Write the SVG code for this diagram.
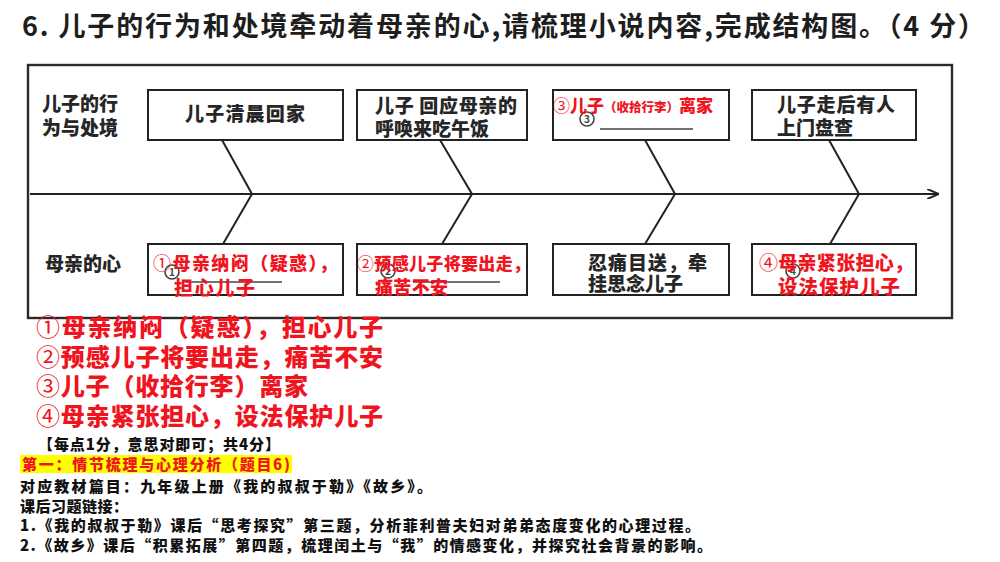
<svg xmlns="http://www.w3.org/2000/svg" width="1000" height="562" viewBox="0 0 1000 562">
<style>
.cjk{font-family:"Noto Sans CJK SC","Noto Sans",sans-serif}
.box{fill:#fff;stroke:#222;stroke-width:2}
.ln{stroke:#222;stroke-width:2;fill:none}
.bt{font-family:"Noto Sans CJK SC",sans-serif;font-size:19px;font-weight:900;fill:#262626}
.red{font-family:"Noto Sans CJK SC",sans-serif;font-weight:900;fill:#f0141e}
.thin{font-weight:400}
.grey{stroke:#444;stroke-width:1.6;fill:none}
.gt{font-family:"Noto Sans CJK SC",sans-serif;font-size:10px;font-weight:700;fill:#444}
.blk{font-family:"Noto Sans CJK SC",sans-serif;font-size:15px;font-weight:900;fill:#111}
</style>
<defs>
<marker id="arr" markerWidth="12" markerHeight="10" refX="11" refY="5" orient="auto" markerUnits="userSpaceOnUse">
<path d="M0,0 L12,5 L0,10" fill="none" stroke="#222" stroke-width="2"/>
</marker>
</defs>
<rect width="1000" height="562" fill="#fff"/>
<text class="cjk" x="22" y="36" font-size="27" font-weight="700" fill="#1e1e1e" textLength="963">6. 儿子的行为和处境牵动着母亲的心,请梳理小说内容,完成结构图。（4 分）</text>
<rect x="28" y="65" width="924" height="253" fill="#fff" stroke="#2a2a2a" stroke-width="2.4"/>
<g id="label-top"><text class="bt" x="42" y="111">儿子的行</text><text class="bt" x="42" y="135">为与处境</text></g>
<g id="label-bottom"><text class="bt" x="45" y="271">母亲的心</text></g>
<g id="connectors">
<line class="ln" x1="30" y1="194" x2="938" y2="194" marker-end="url(#arr)"/>
<polyline class="ln" points="222,140 252,194 223,244"/>
<polyline class="ln" points="440,140 472,194 442,244"/>
<polyline class="ln" points="645,140 675,194 645,244"/>
<polyline class="ln" points="829,140 859,194 830,244"/>
</g>
<g id="top1"><rect class="box" x="148" y="90" width="195" height="50"/><text class="bt" x="245" y="121" text-anchor="middle" textLength="120">儿子清晨回家</text></g>
<g id="top2"><rect class="box" x="357" y="90" width="170" height="50"/><text class="bt" x="375" y="113" textLength="142">儿子 回应母亲的</text><text class="bt" x="375" y="136">呼唤来吃午饭</text></g>
<g id="top3"><rect class="box" x="553" y="90" width="176" height="50"/>
<circle class="grey" cx="587" cy="119" r="7"/><text class="gt" x="587" y="123" text-anchor="middle">3</text>
<line class="grey" x1="600" y1="129" x2="693" y2="129"/>
<text class="red" x="553" y="112" font-size="17"><tspan class="thin">③</tspan>儿子<tspan font-size="12.5">（收拾行李）</tspan>离家</text></g>
<g id="top4"><rect class="box" x="752" y="90" width="164" height="50"/><text class="bt" x="777" y="112" textLength="118">儿子走后有人</text><text class="bt" x="777" y="135">上门盘查</text></g>
<g id="bot1"><rect class="box" x="148" y="244" width="195" height="51"/>
<circle class="grey" cx="172" cy="272" r="7"/><text class="gt" x="172" y="276" text-anchor="middle">1</text>
<line class="grey" x1="185" y1="282" x2="282" y2="282"/>
<text class="red" x="153" y="270" font-size="18" textLength="184"><tspan class="thin">①</tspan>母亲纳闷（疑惑），</text><text class="red" x="174" y="295" font-size="19" textLength="81">担心儿子</text></g>
<g id="bot2"><rect class="box" x="357" y="244" width="170" height="51"/>
<circle class="grey" cx="388" cy="271" r="7"/><text class="gt" x="388" y="275" text-anchor="middle">2</text>
<line class="grey" x1="413" y1="282" x2="500" y2="282"/>
<text class="red" x="357" y="270" font-size="17" textLength="173"><tspan class="thin">②</tspan>预感儿子将要出走，</text><text class="red" x="375" y="294" font-size="18" textLength="73">痛苦不安</text></g>
<g id="bot3"><rect class="box" x="553" y="244" width="176" height="51"/><text class="bt" x="588" y="270" textLength="119">忍痛目送，牵</text><text class="bt" x="588" y="291">挂思念儿子</text></g>
<g id="bot4"><rect class="box" x="752" y="244" width="164" height="51"/>
<circle class="grey" cx="793" cy="271" r="7"/><text class="gt" x="793" y="275" text-anchor="middle">4</text>
<text class="red" x="759" y="270" font-size="19" textLength="154"><tspan class="thin">④</tspan>母亲紧张担心，</text><text class="red" x="778" y="294" font-size="19.5" textLength="122">设法保护儿子</text></g>
<g id="answers">
<text class="red" x="36" y="336" font-size="24" textLength="347"><tspan class="thin">①</tspan>母亲纳闷（疑惑），担心儿子</text>
<text class="red" x="36" y="366" font-size="24" textLength="347"><tspan class="thin">②</tspan>预感儿子将要出走，痛苦不安</text>
<text class="red" x="36" y="395" font-size="24" textLength="272"><tspan class="thin">③</tspan>儿子（收拾行李）离家</text>
<text class="red" x="36" y="425" font-size="24" textLength="347"><tspan class="thin">④</tspan>母亲紧张担心，设法保护儿子</text>
</g>
<g id="notes">
<text class="blk" x="38" y="450" textLength="242">【每点1分，意思对即可；共4分】</text>
<rect x="20" y="455" width="272" height="18" fill="#ffff00"/>
<text class="red" x="22" y="470" font-size="15" textLength="268">第一：情节梳理与心理分析（题目6)</text>
<text class="blk" x="20" y="492" textLength="412">对应教材篇目：九年级上册《我的叔叔于勒》《故乡》。</text>
<text class="blk" x="20" y="512" textLength="108">课后习题链接：</text>
<text class="blk" x="20" y="531" textLength="680">1.《我的叔叔于勒》课后“思考探究”第三题，分析菲利普夫妇对弟弟态度变化的心理过程。</text>
<text class="blk" x="20" y="551" textLength="692">2.《故乡》课后“积累拓展”第四题，梳理闰土与“我”的情感变化，并探究社会背景的影响。</text>
</g>
</svg>
